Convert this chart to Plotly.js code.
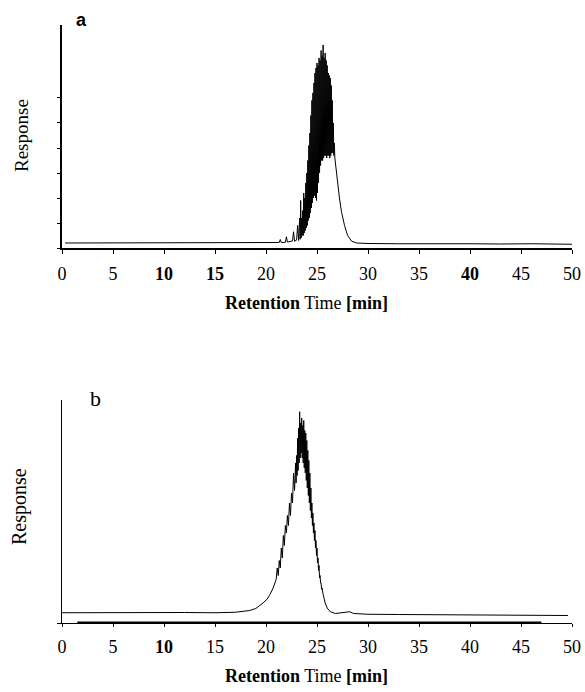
<!DOCTYPE html>
<html>
<head>
<meta charset="utf-8">
<script src="https://cdn.plot.ly/plotly-3.0.1.min.js"></script>
<style>html,body{margin:0;padding:0;background:#fff;}#chart{width:585px;height:692px;}</style>
</head>
<body>
<div id="chart"></div>
<script>
// ---- Tick labels ----
const tickValues = [0, 5, 10, 15, 20, 25, 30, 35, 40, 45, 50];
const topTickText = ['0', '5', '<b>10</b>', '<b>15</b>', '20', '25', '30', '35', '<b>40</b>', '45', '50'];
const bottomTickText = ['0', '5', '<b>10</b>', '15', '20', '25', '30', '35', '40', '45', '50'];
const responseTicks = [0, 1, 2, 3, 4, 5, 6];

// ---- Panel a: retention time [min] and response (arbitrary units) ----
const timeA = [0.3, 5, 10, 15, 20, 21.0, 21.3, 21.4, 21.5, 21.9, 22.0, 22.1, 22.6, 22.7, 22.8, 23.0, 23.1, 23.2, 23.3, 23.35,
  23.4, 23.45, 23.5, 23.55, 23.6, 23.65, 23.7, 23.75, 23.8, 23.85, 23.9, 23.95, 24.0, 24.05, 24.1, 24.15, 24.2, 24.25,
  24.3, 24.35, 24.4, 24.45, 24.5, 24.55, 24.6, 24.65, 24.7, 24.75, 24.8, 24.85, 24.9, 24.95, 25.0, 25.05, 25.1, 25.15,
  25.2, 25.25, 25.3, 25.35, 25.4, 25.45, 25.5, 25.55, 25.6, 25.65, 25.7, 25.75, 25.8, 25.85, 25.9, 25.95, 26.0, 26.05,
  26.1, 26.15, 26.2, 26.25, 26.3, 26.35, 26.4, 26.45, 26.5, 26.55, 26.6, 26.65, 26.7, 26.75, 26.85, 27.0, 27.2, 27.4,
  27.7, 28.0, 28.4, 28.9, 30, 33, 36, 40, 43, 46, 50];
const responseA = [0.2, 0.2, 0.2, 0.2, 0.2, 0.2, 0.22, 0.34, 0.22, 0.23, 0.45, 0.24, 0.28, 0.65, 0.27, 0.32, 0.9, 0.3, 1.2, 0.35,
  1.9, 0.4, 1.2, 0.5, 1.5, 0.5, 2.2, 0.6, 2.0, 0.7, 2.6, 0.8, 3.0, 0.9, 3.5, 1.1, 4.1, 1.2,
  4.6, 1.4, 5.3, 1.6, 5.9, 1.8, 6.2, 2.0, 6.6, 2.1, 7.0, 2.0, 7.2, 1.9, 7.4, 2.2, 7.3, 2.6,
  7.6, 3.0, 7.5, 3.3, 7.9, 3.5, 7.7, 3.5, 8.12, 3.6, 7.6, 3.7, 7.8, 3.7, 7.5, 3.6, 7.3, 3.7,
  7.0, 3.7, 6.9, 3.6, 6.8, 3.7, 6.5, 3.8, 5.9, 3.8, 5.0, 3.7, 4.2, 3.6, 3.2, 2.7, 2.0, 1.45,
  0.9, 0.5, 0.27, 0.2, 0.18, 0.17, 0.18, 0.17, 0.16, 0.17, 0.15];

// ---- Panel b ----
const timeB = [0, 3, 6, 9, 12, 15, 17, 18.4, 19.0, 19.7, 20.1, 20.4, 20.7, 21.0,
  21.1, 21.2, 21.3, 21.4, 21.5, 21.6, 21.7, 21.8, 21.9, 22.0, 22.1, 22.2, 22.3, 22.4, 22.5, 22.6, 22.7, 22.8,
  22.9, 22.95, 23.0, 23.05, 23.1, 23.15, 23.2, 23.25, 23.3, 23.35, 23.4, 23.45, 23.5, 23.55, 23.6, 23.65, 23.7, 23.75,
  23.8, 23.85, 23.9, 23.95, 24.0, 24.05, 24.1, 24.15, 24.2, 24.25, 24.3, 24.35, 24.4, 24.45, 24.5, 24.55, 24.6, 24.65,
  24.7, 24.75, 24.8, 24.85, 24.9, 24.95, 25.0, 25.05, 25.1, 25.15, 25.2, 25.25, 25.3, 25.35, 25.4, 25.45, 25.5,
  25.6, 25.8, 26.0, 26.3, 26.8, 27.5, 28.2, 28.6,
  30, 33, 36, 40, 44, 48, 49.6];
const responseB = [0.41, 0.42, 0.43, 0.43, 0.42, 0.41, 0.43, 0.5, 0.58, 0.8, 0.95, 1.15, 1.4, 1.75,
  2.2, 1.9, 2.5, 2.2, 3.0, 2.6, 3.5, 3.1, 3.9, 3.6, 4.3, 3.9, 4.8, 4.3, 5.2, 4.8, 6.0, 5.3,
  6.4, 5.6, 6.7, 5.9, 7.4, 6.1, 7.8, 6.4, 8.45, 6.6, 8.0, 6.8, 8.2, 6.6, 7.9, 6.4, 8.1, 6.2,
  7.7, 6.0, 7.6, 5.7, 7.3, 5.4, 6.9, 5.1, 6.5, 4.8, 6.0, 4.5, 5.4, 4.2, 4.8, 3.9, 4.4, 3.6,
  4.0, 3.3, 3.7, 3.0, 3.3, 2.7, 3.0, 2.4, 2.6, 2.1, 2.3, 1.8, 1.9, 1.6, 1.6, 1.35, 1.4,
  1.15, 0.8, 0.6, 0.45, 0.38, 0.4, 0.45, 0.38,
  0.35, 0.34, 0.33, 0.32, 0.31, 0.3, 0.3];

const serif = 'Liberation Serif';
const tickFont = {family: serif, size: 18, color: '#000'};

const traces = [
  {x: timeA, y: responseA, xaxis: 'x', yaxis: 'y', type: 'scatter', mode: 'lines',
   line: {color: '#000', width: 1}, hoverinfo: 'skip'},
  {x: timeB, y: responseB, xaxis: 'x2', yaxis: 'y2', type: 'scatter', mode: 'lines',
   line: {color: '#000', width: 1}, hoverinfo: 'skip'}
];

function px2x(px) { return (px - 62) / 510; }
function py2y(py) { return 1 - py / 692; }

const commonX = {
  range: [0, 50], tickvals: tickValues, ticks: 'outside', ticklen: 4, tickwidth: 1, tickcolor: '#000',
  showline: true, linecolor: '#000', showgrid: false, zeroline: false, tickfont: tickFont,
  ticklabelstandoff: 4, fixedrange: true
};
const commonY = {
  range: [0, 8.92], showticklabels: false, showgrid: false, zeroline: false,
  showline: true, linecolor: '#000', ticks: 'outside', tickcolor: '#000', fixedrange: true
};

const layout = {
  width: 585, height: 692,
  margin: {l: 62, r: 13, t: 0, b: 0},
  paper_bgcolor: '#fff', plot_bgcolor: '#fff',
  showlegend: false,
  font: {family: serif, color: '#000'},
  xaxis: Object.assign({}, commonX, {anchor: 'y', domain: [0, 1], ticktext: topTickText, linewidth: 2}),
  yaxis: Object.assign({}, commonY, {anchor: 'x', domain: [0.6416, 0.9639], tickvals: responseTicks,
    ticklen: 3, tickwidth: 1, linewidth: 2}),
  xaxis2: Object.assign({}, commonX, {anchor: 'y2', domain: [0, 1], ticktext: bottomTickText, linewidth: 1, ticklen: 3}),
  yaxis2: Object.assign({}, commonY, {anchor: 'x2', domain: [0.0997, 0.4220], tickvals: [0],
    ticklen: 4, tickwidth: 1, linewidth: 1}),
  shapes: [
    {type: 'line', xref: 'x2', yref: 'y2', x0: 1.5, x1: 47.0, y0: 0, y1: 0, line: {color: '#000', width: 3}}
  ],
  annotations: [
    {text: '<b>a</b>', xref: 'paper', yref: 'paper', x: px2x(81), y: py2y(20), showarrow: false,
     xanchor: 'center', yanchor: 'middle', font: {family: 'Liberation Sans', size: 18, color: '#000'}},
    {text: 'b', xref: 'paper', yref: 'paper', x: px2x(95), y: py2y(398), showarrow: false,
     xanchor: 'center', yanchor: 'middle', font: {family: serif, size: 22, color: '#000'}},
    {text: 'Response', xref: 'paper', yref: 'paper', x: px2x(21), y: py2y(136), showarrow: false, textangle: -90,
     xanchor: 'center', yanchor: 'middle', font: {family: serif, size: 19, color: '#000'}},
    {text: 'Response', xref: 'paper', yref: 'paper', x: px2x(20), y: py2y(507), showarrow: false, textangle: -90,
     xanchor: 'center', yanchor: 'middle', font: {family: serif, size: 20, color: '#000'}},
    {text: '<b>Retention</b> Time <b>[min]</b>', xref: 'paper', yref: 'paper', x: px2x(306), y: py2y(303),
     showarrow: false, xanchor: 'center', yanchor: 'middle', font: {family: serif, size: 18, color: '#000'}},
    {text: '<b>Retention</b> Time <b>[min]</b>', xref: 'paper', yref: 'paper', x: px2x(306), y: py2y(676),
     showarrow: false, xanchor: 'center', yanchor: 'middle', font: {family: serif, size: 18, color: '#000'}}
  ]
};

Plotly.newPlot('chart', traces, layout, {displayModeBar: false, staticPlot: true});
</script>
</body>
</html>
